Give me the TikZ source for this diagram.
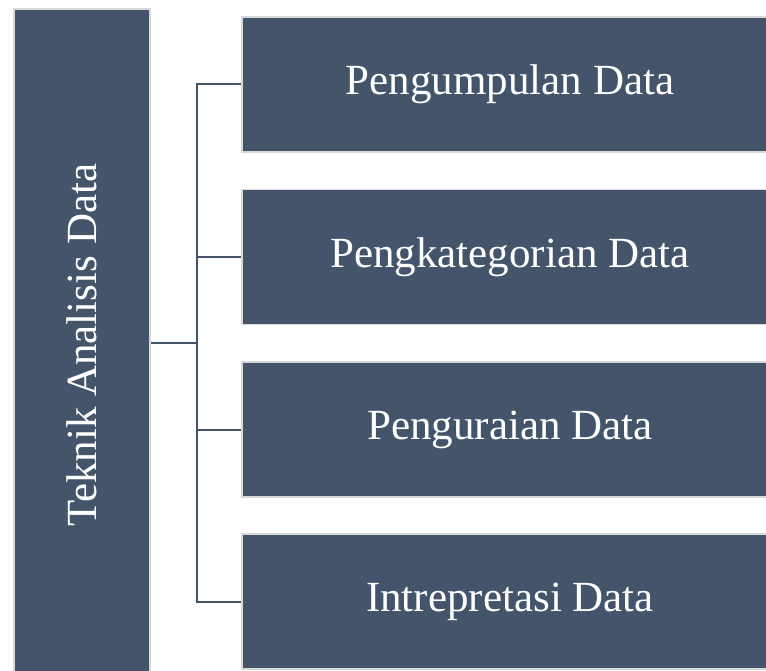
\documentclass[tikz,border=0pt]{standalone}
\usepackage{fontspec}
\setmainfont{Liberation Serif}
\definecolor{slate}{HTML}{44546A}
\definecolor{rim}{HTML}{D9D9D9}
\begin{document}
\begin{tikzpicture}[x=1pt,y=-1pt,
  box/.style={fill=slate,draw=rim,line width=1.5pt,inner sep=0pt,text=white,font=\fontsize{43}{50}\selectfont},
  conn/.style={draw=slate,line width=2pt}]
\useasboundingbox (0,0) rectangle (766,671);
\node[box,minimum width=136pt,minimum height=664pt] (main) at (82,341) {};
\node[rotate=90,text=white,font=\fontsize{43}{50}\selectfont] (mt) at (82,345) {Teknik Analisis Data};
\node[box,minimum width=536pt,minimum height=135pt] (b1) at (510,84.5) {Pengumpulan Data};
\node[box,minimum width=536pt,minimum height=135pt] (b2) at (510,257) {Pengkategorian Data};
\node[box,minimum width=536pt,minimum height=135pt] (b3) at (510,429.5) {Penguraian Data};
\node[box,minimum width=536pt,minimum height=135pt] (b4) at (510,601.5) {Intrepretasi Data};
\coordinate (j) at (197,343);
\draw[conn] (main.east |- j) -- (j);
\draw[conn] (b1.west) -| (j) |- (b4.west);
\draw[conn] (j |- b2.west) -- (b2.west);
\draw[conn] (j |- b3.west) -- (b3.west);
\end{tikzpicture}
\end{document}
